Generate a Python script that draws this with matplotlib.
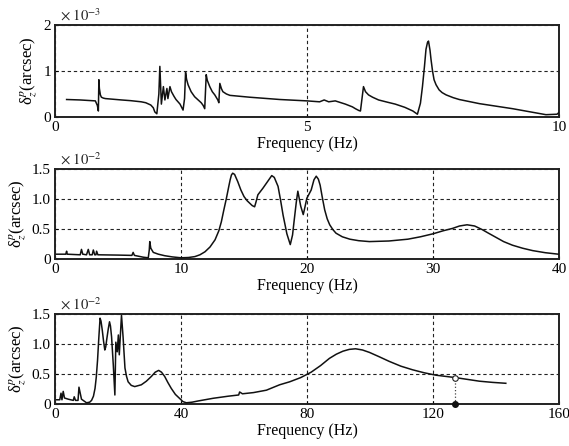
import matplotlib
matplotlib.use("Agg")
import matplotlib.pyplot as plt

plt.rcParams['font.family'] = ['Liberation Serif', 'DejaVu Serif']
plt.rcParams['mathtext.fontset'] = 'stix'

# panel 1: 0-10 Hz, values in 1e-3 arcsec
f1 = [0.23, 0.5, 0.8, 0.84, 0.86, 0.87, 0.88, 0.90, 0.92, 0.96, 1.0, 1.32, 1.5, 1.71, 1.8, 1.90,
      1.95, 1.98, 2.02, 2.06, 2.08, 2.11, 2.15, 2.18, 2.22, 2.24, 2.28, 2.31, 2.36, 2.4, 2.48,
      2.54, 2.57, 2.59, 2.61, 2.64, 2.7, 2.77, 2.85, 2.90, 2.94, 2.97, 3.0, 3.02, 3.07, 3.12,
      3.17, 3.23, 3.25, 3.27, 3.30, 3.33, 3.4, 3.47, 3.86, 4.46, 5.0, 5.25, 5.34, 5.43, 5.56,
      5.76, 5.9, 5.96, 6.03, 6.06, 6.12, 6.16, 6.22, 6.3, 6.42, 6.6, 6.75, 6.94, 7.1, 7.19,
      7.25, 7.29, 7.33, 7.36, 7.39, 7.41, 7.44, 7.46, 7.49, 7.52, 7.56, 7.62, 7.68, 7.76,
      7.9, 8.02, 8.42, 9.08, 9.74, 9.96, 10.0]
v1 = [0.38, 0.37, 0.35, 0.25, 0.13, 0.81, 0.62, 0.48, 0.43, 0.41, 0.40, 0.37, 0.355, 0.33, 0.31, 0.26,
      0.20, 0.11, 0.07, 0.5, 1.10, 0.28, 0.66, 0.37, 0.62, 0.40, 0.66, 0.55, 0.45, 0.38, 0.28,
      0.15, 0.4, 0.97, 0.82, 0.70, 0.55, 0.44, 0.36, 0.31, 0.25, 0.18, 0.92, 0.80, 0.66, 0.55,
      0.48, 0.37, 0.31, 0.73, 0.62, 0.55, 0.50, 0.47, 0.43, 0.38, 0.35, 0.33, 0.37, 0.33, 0.35,
      0.28, 0.22, 0.18, 0.14, 0.13, 0.66, 0.55, 0.48, 0.43, 0.37, 0.32, 0.28, 0.21, 0.13, 0.06,
      0.30, 0.66, 1.10, 1.47, 1.62, 1.65, 1.45, 1.25, 1.00, 0.81, 0.70, 0.59, 0.53, 0.48,
      0.42, 0.38, 0.29, 0.18, 0.05, 0.06, 0.10]

# panel 2: 0-40 Hz, values in 1e-2 arcsec
f2 = [0.1, 0.85, 0.92, 0.97, 2.0, 2.1, 2.2, 2.5, 2.64, 2.75, 2.95, 3.04, 3.15, 3.25, 3.3, 3.4,
      5.0, 6.1, 6.2, 6.3, 7.0, 7.4, 7.48, 7.52, 7.6, 7.8, 8.2, 8.7, 9.3, 10.0, 10.6, 11.1, 11.5,
      11.9, 12.3, 12.7, 13.0, 13.2, 13.4, 13.6, 13.8, 13.9, 14.0, 14.1, 14.25, 14.5, 14.75,
      15.0, 15.25, 15.45, 15.65, 15.84, 15.95, 16.1, 16.5, 16.9, 17.2, 17.4, 17.7, 17.9, 18.1,
      18.4, 18.67, 18.85, 19.0, 19.15, 19.27, 19.5, 19.7, 19.85, 19.98, 20.33, 20.55, 20.73,
      20.9, 21.04, 21.2, 21.4, 21.6, 21.8, 22.05, 22.3, 22.8, 23.4, 24.1, 24.95, 26.5, 28.0,
      29.0, 30.0, 30.8, 31.55, 32.1, 32.7, 33.3, 33.9, 34.4, 35.0, 35.6, 36.3, 37.1, 37.9,
      38.9, 39.95]
v2 = [0.08, 0.08, 0.13, 0.08, 0.07, 0.16, 0.08, 0.07, 0.16, 0.07, 0.07, 0.15, 0.07, 0.07, 0.13, 0.07,
      0.065, 0.06, 0.11, 0.06, 0.03, 0.02, 0.15, 0.29, 0.18, 0.11, 0.08, 0.055, 0.035, 0.02, 0.025,
      0.04, 0.07, 0.12, 0.20, 0.32, 0.47, 0.62, 0.82, 1.01, 1.22, 1.32, 1.40, 1.43, 1.41, 1.29,
      1.15, 1.04, 0.97, 0.93, 0.89, 0.87, 0.95, 1.07, 1.18, 1.30, 1.39, 1.36, 1.21, 0.98, 0.73,
      0.42, 0.24, 0.40, 0.68, 0.95, 1.13, 0.88, 0.74, 0.88, 1.01, 1.15, 1.32, 1.38,
      1.33, 1.23, 1.04, 0.82, 0.67, 0.57, 0.49, 0.43, 0.37, 0.33, 0.305, 0.29, 0.30, 0.33,
      0.37, 0.42, 0.47, 0.51, 0.55, 0.57, 0.55, 0.49, 0.43, 0.36, 0.29, 0.23, 0.18, 0.14,
      0.105, 0.08]

# panel 3: 0-160 Hz, values in 1e-2 arcsec
f3 = [0.5, 1.5, 1.9, 2.2, 2.6, 3.0, 4.2, 5.8, 6.1, 6.5, 7.3, 7.6, 8.4, 10.0, 11.0, 11.6, 12.2,
      12.7, 13.1, 13.5, 13.9, 14.3, 14.6, 15.0, 15.4, 15.8, 16.1, 16.4, 16.9, 17.3, 17.6, 17.95,
      18.5, 19.0, 19.3, 19.75, 20.1, 20.4, 21.1, 21.6, 22.2, 22.7, 23.2, 24.2, 25.3, 27.4,
      29.0, 30.6, 31.8, 32.9, 33.8, 34.8, 35.8, 36.9, 38.2, 39.6, 40.6, 41.7, 43.5, 45.4,
      50.2, 55.0, 58.3, 58.6, 59.5, 63.0, 67.1, 71.3, 74.5, 78.0, 81.3, 84.3, 87.1, 89.3,
      91.4, 93.4, 95.4, 97.6, 99.8, 102.8, 106.1, 109.8, 113.5, 117.2, 120.9, 124.0, 127.1,
      130.9, 134.7, 138.9, 143.1]
v3 = [0.07, 0.07, 0.18, 0.07, 0.21, 0.10, 0.08, 0.06, 0.12, 0.06, 0.06, 0.28, 0.08, 0.02, 0.03, 0.06, 0.13,
      0.26, 0.45, 0.73, 1.10, 1.43, 1.38, 1.23, 1.05, 0.90, 0.95, 1.07, 1.25, 1.37, 1.30, 1.12,
      0.65, 0.15, 1.03, 0.87, 1.15, 0.82, 1.48, 1.12, 0.60, 0.46, 0.37, 0.31, 0.29, 0.32,
      0.38, 0.46, 0.53, 0.56, 0.53, 0.46, 0.36, 0.26, 0.16, 0.09, 0.04, 0.02, 0.03, 0.05,
      0.095, 0.13, 0.15, 0.20, 0.17, 0.19, 0.23, 0.32, 0.37, 0.44, 0.53, 0.64, 0.76, 0.83,
      0.88, 0.91, 0.92, 0.90, 0.86, 0.79, 0.71, 0.63, 0.57, 0.52, 0.48, 0.46, 0.44,
      0.41, 0.38, 0.36, 0.345]
mark_f = 127.1
mark_v = 0.44

panels = [
    dict(f=f1, v=v1, xlim=(0, 10), xticks=[0, 5, 10], ylim=(0, 2), yticks=[0, 1, 2],
         ylabels=['0', '1', '2'], exp='-3', rect=[0.0967, 0.7377, 0.8858, 0.2063]),
    dict(f=f2, v=v2, xlim=(0, 40), xticks=[0, 10, 20, 30, 40], ylim=(0, 1.5),
         yticks=[0, 0.5, 1.0, 1.5], ylabels=['0', '0.5', '1.0', '1.5'], exp='-2',
         rect=[0.0967, 0.4193, 0.8858, 0.2018]),
    dict(f=f3, v=v3, xlim=(0, 160), xticks=[0, 40, 80, 120, 160], ylim=(0, 1.5),
         yticks=[0, 0.5, 1.0, 1.5], ylabels=['0', '0.5', '1.0', '1.5'], exp='-2',
         rect=[0.0967, 0.0942, 0.8858, 0.2018]),
]

fig = plt.figure(figsize=(5.69, 4.46), dpi=100)
axes = []
for p in panels:
    ax = fig.add_axes(p['rect'])
    ax.plot(p['f'], p['v'], color='#111111', lw=1.1, zorder=3)
    ax.set_xlim(*p['xlim']); ax.set_ylim(*p['ylim'])
    ax.set_xticks(p['xticks']); ax.set_yticks(p['yticks'])
    ax.set_yticklabels(p['ylabels'])
    ax.grid(True, color='#222222', ls=(0, (3, 2.5)), lw=0.8)
    ax.tick_params(direction='in', length=2, labelsize=11, pad=3)
    for s in ax.spines.values():
        s.set_linewidth(1.4); s.set_color('#222222')
    ax.set_xlabel('Frequency (Hz)', fontsize=11.5, labelpad=1)
    ax.set_ylabel(r'δ$_z^p$(arcsec)', fontsize=12, labelpad=3)
    ax.text(0.01, 1.01, r'$\times\ 10^{' + p['exp'] + '}$', transform=ax.transAxes,
            fontsize=10.5, va='bottom', ha='left', color='#222222')
    axes.append(ax)

ax3 = axes[2]
ax3.plot([mark_f, mark_f], [0, mark_v], color='#444444', ls=':', lw=0.9, zorder=3)
ax3.plot([mark_f], [mark_v], 'o', ms=4, mfc='white', mec='#222222', mew=0.8, zorder=4)
ax3.plot([mark_f], [0], 'o', ms=4, color='#111111', zorder=5, clip_on=False)

fig.savefig('out.png', dpi=100)
